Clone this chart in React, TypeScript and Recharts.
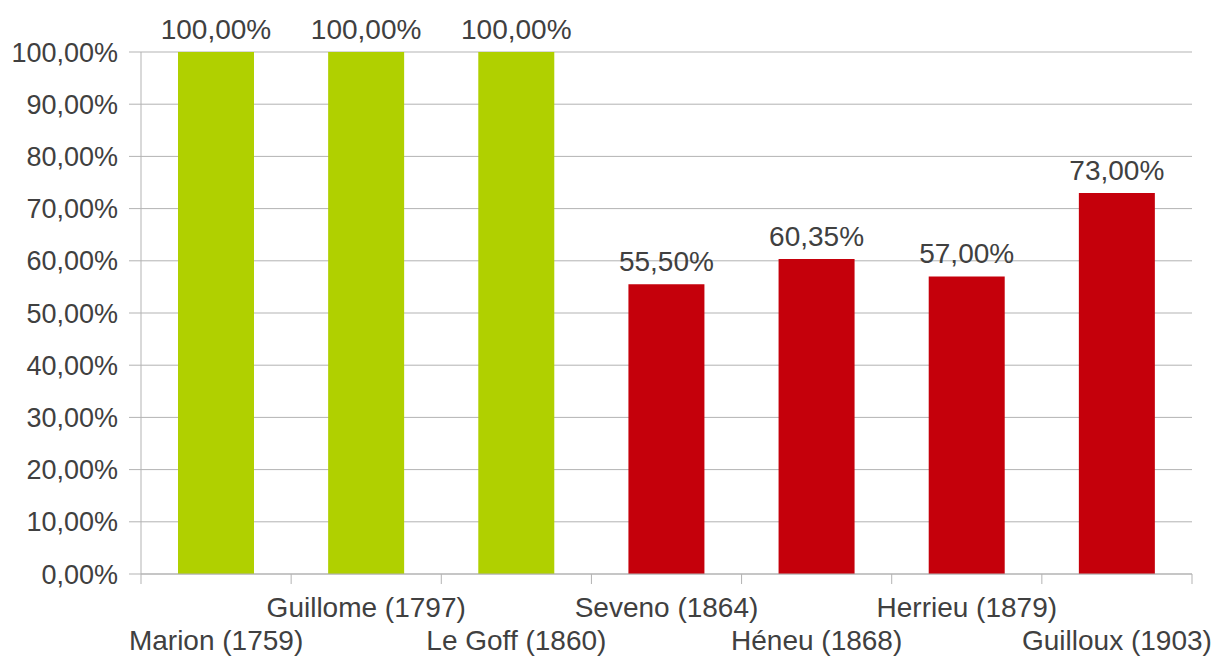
import React from "react";
import { BarChart, Bar, XAxis, YAxis, CartesianGrid, Cell, LabelList } from "recharts";

const categories = [
  "Marion (1759)",
  "Guillome (1797)",
  "Le Goff (1860)",
  "Seveno (1864)",
  "Héneu (1868)",
  "Herrieu (1879)",
  "Guilloux (1903)",
];
const values = [100, 100, 100, 55.5, 60.35, 57, 73];
const barColors = ["#b0d000", "#b0d000", "#b0d000", "#c5000b", "#c5000b", "#c5000b", "#c5000b"];
const yTicks = [0, 10, 20, 30, 40, 50, 60, 70, 80, 90, 100];

const data = categories.map((name, i) => ({ name, value: values[i], color: barColors[i] }));

const FONT = "'Liberation Sans', Arial, sans-serif";
const TEXT = "#404040";
const GRID = "#b3b3b3";
const FS = 28;

const fmt = (v: number) => v.toFixed(2).replace(".", ",") + "%";

const XTick = (props: any) => {
  const { x, y, payload, index, visibleTicksCount } = props;
  const band = 1051 / categories.length;
  const isLast = index === (visibleTicksCount ?? categories.length) - 1;
  const dy = index % 2 === 0 ? 76 : 43;
  return (
    <g>
      <line x1={x - band / 2} x2={x - band / 2} y1={y} y2={y + 10} stroke={GRID} strokeWidth={1} />
      {isLast && <line x1={x + band / 2} x2={x + band / 2} y1={y} y2={y + 10} stroke={GRID} strokeWidth={1} />}
      <text x={x} y={y + dy} textAnchor="middle" fill={TEXT} fontSize={FS} fontFamily={FONT}>
        {payload.value}
      </text>
    </g>
  );
};

export default function App() {
  return (
    <div style={{ position: "absolute", left: 0, top: 0, width: 1215, height: 657, background: "#fff" }}>
      <BarChart width={1215} height={657} data={data} margin={{ top: 52, right: 23, bottom: 0, left: 0 }}>
        <CartesianGrid vertical={false} stroke={GRID} strokeWidth={1} />
        <XAxis
          dataKey="name"
          interval={0}
          height={83}
          axisLine={{ stroke: GRID }}
          tickLine={false}
          tickSize={0}
          tickMargin={0}
          tick={<XTick />}
        />
        <YAxis
          domain={[0, 100]}
          ticks={yTicks}
          width={141}
          tickFormatter={fmt}
          axisLine={{ stroke: GRID }}
          tickLine={{ stroke: GRID }}
          tickSize={12}
          tickMargin={11}
          tick={{ fill: TEXT, fontSize: 27, fontFamily: FONT }}
        />
        <YAxis
          yAxisId="right"
          orientation="right"
          domain={[0, 100]}
          width={0}
          tick={false}
          tickLine={false}
          axisLine={{ stroke: GRID }}
        />
        <Bar dataKey="value" barSize={76} isAnimationActive={false}>
          {data.map((d, i) => (
            <Cell key={i} fill={d.color} />
          ))}
          <LabelList
            dataKey="value"
            position="top"
            offset={13}
            formatter={(v: any) => fmt(Number(v))}
            style={{ fill: TEXT, fontSize: FS, fontFamily: FONT }}
          />
        </Bar>
      </BarChart>
    </div>
  );
}
